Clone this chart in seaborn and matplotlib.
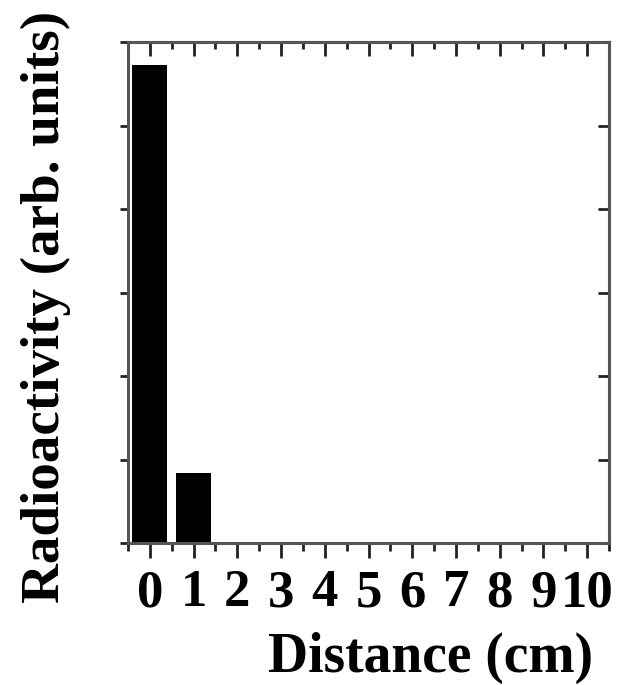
import matplotlib
matplotlib.use("Agg")
import matplotlib.pyplot as plt
import seaborn as sns
import pandas as pd
from matplotlib.ticker import MultipleLocator, NullFormatter

distance = ["0", "1", "2", "3", "4", "5", "6", "7", "8", "9", "10"]
radioactivity = [2.86, 0.42, 0, 0, 0, 0, 0, 0, 0, 0, 0]

sns.set_theme(style="white")
plt.rcParams['font.family'] = ['Liberation Serif', 'DejaVu Serif']
plt.rcParams['font.weight'] = 'bold'

df = pd.DataFrame({"Distance": distance, "Radioactivity": radioactivity})

W, H = 618, 685
fig = plt.figure(figsize=(W / 100, H / 100), dpi=100)
ax = fig.add_axes([128 / W, 1 - 543 / H, (609 - 128) / W, (543 - 42) / H])
sns.barplot(data=df, x="Distance", y="Radioactivity", order=distance,
            color="black", saturation=1, width=0.8, ax=ax, edgecolor="black", linewidth=0)

ax.set_xlim(-0.5, 10.5)
ax.set_ylim(0, 3)
ax.yaxis.set_major_locator(MultipleLocator(1))
ax.yaxis.set_minor_locator(MultipleLocator(0.5))
ax.yaxis.set_major_formatter(NullFormatter())
ax.xaxis.set_minor_locator(MultipleLocator(0.5))

for s in ax.spines.values():
    s.set_visible(True)
    s.set_color("#555555")
    s.set_linewidth(2.2)

ax.tick_params(axis="x", which="major", direction="out", length=11, width=2, color="#222222",
               bottom=True, top=False, labelsize=38, pad=8, labelcolor="black")
ax.tick_params(axis="x", which="minor", direction="out", length=6, width=2, color="#222222",
               bottom=True, top=False)
ax.tick_params(axis="y", which="both", direction="out", length=6, width=2, color="#222222",
               left=True, right=False)

ax2 = ax.secondary_xaxis("top")
ax2.set_xticks(range(11))
ax2.xaxis.set_minor_locator(MultipleLocator(0.5))
ax2.tick_params(axis="x", which="major", direction="in", length=10, width=2, color="#222222", labeltop=False)
ax2.tick_params(axis="x", which="minor", direction="in", length=5, width=2, color="#222222")
ax2.spines["top"].set_color("#555555")
ax2.spines["top"].set_linewidth(2.2)
ax3 = ax.secondary_yaxis("right")
ax3.yaxis.set_major_locator(MultipleLocator(1))
ax3.yaxis.set_minor_locator(MultipleLocator(0.5))
ax3.yaxis.set_major_formatter(NullFormatter())
ax3.tick_params(axis="y", which="both", direction="in", length=8, width=2, color="#222222")
ax3.spines["right"].set_color("#555555")
ax3.spines["right"].set_linewidth(2.2)

for lbl in ax.get_xticklabels():
    lbl.set_fontweight("bold")

ax.set_xlabel("")
ax.set_ylabel("")

# axis titles placed in pixel coordinates, sized to fit the reference extents
xl = fig.text(430.5 / W, 1 - 658 / H, "Distance (cm)", ha="center", va="center",
              fontsize=40, fontweight="bold", color="black")
yl = fig.text(46 / W, 1 - 306.5 / H, "Radioactivity (arb. units)", ha="center", va="center",
              rotation=90, fontsize=37, fontweight="bold", color="black")

fig.canvas.draw()
r = fig.canvas.get_renderer()
bx = xl.get_window_extent(r)
xl.set_fontsize(40 * 325 / bx.width)
by = yl.get_window_extent(r)
yl.set_fontsize(37 * 593 / by.height)

fig.savefig("out.png", dpi=100)
